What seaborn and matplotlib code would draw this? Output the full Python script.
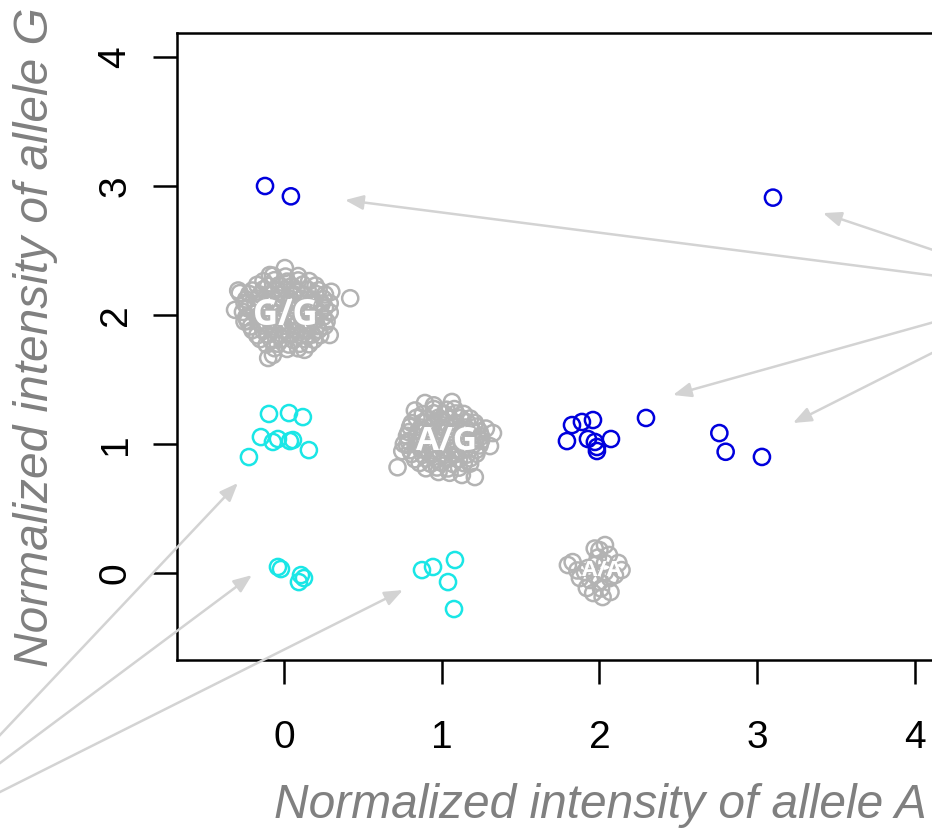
import numpy as np
import pandas as pd
import matplotlib
matplotlib.use("Agg")
import matplotlib.pyplot as plt
import seaborn as sns

# ---------------- data ----------------
# G/G cluster (gray)
gg_x = [-0.07, 0.01, 0.09,
        -0.13, -0.06, 0.02, 0.09, 0.16,
        -0.17, -0.10, -0.03, 0.05, 0.12, 0.20,
        -0.20, -0.13, -0.06, 0.01, 0.08, 0.15, 0.22,
        -0.22, -0.15, -0.08, -0.01, 0.06, 0.13, 0.20, 0.26,
        -0.24, -0.17, -0.10, -0.03, 0.04, 0.11, 0.18, 0.25,
        -0.25, -0.18, -0.11, -0.04, 0.03, 0.10, 0.17, 0.24, 0.29,
        -0.23, -0.16, -0.09, -0.02, 0.05, 0.12, 0.19, 0.26,
        -0.26, -0.19, -0.12, -0.05, 0.02, 0.09, 0.16, 0.23, 0.29,
        -0.24, -0.17, -0.10, -0.03, 0.04, 0.11, 0.18, 0.25,
        -0.23, -0.16, -0.09, -0.02, 0.05, 0.12, 0.19, 0.27,
        -0.21, -0.14, -0.07, 0.00, 0.07, 0.14, 0.21, 0.26,
        -0.20, -0.13, -0.06, 0.01, 0.08, 0.15, 0.22,
        -0.17, -0.10, -0.03, 0.04, 0.11, 0.18, 0.23,
        -0.15, -0.08, -0.01, 0.06, 0.13, 0.19,
        -0.11, -0.04, 0.03, 0.10, 0.16,
        -0.06, 0.02, 0.09,
        0.006, -0.09, -0.29, -0.28, 0.42, 0.30, 0.29, -0.10, -0.07, -0.31, -0.25, 0.13]
gg_y = [2.305, 2.298, 2.302,
        2.262, 2.270, 2.259, 2.268, 2.263,
        2.234, 2.226, 2.232, 2.225, 2.236, 2.228,
        2.190, 2.199, 2.193, 2.200, 2.191, 2.197, 2.192,
        2.163, 2.157, 2.164, 2.158, 2.162, 2.156, 2.165, 2.159,
        2.121, 2.128, 2.122, 2.129, 2.123, 2.127, 2.120, 2.126,
        2.093, 2.087, 2.094, 2.086, 2.092, 2.088, 2.095, 2.089, 2.091,
        2.052, 2.058, 2.051, 2.057, 2.053, 2.059, 2.054, 2.056,
        2.024, 2.017, 2.023, 2.016, 2.022, 2.018, 2.025, 2.019, 2.021,
        1.982, 1.988, 1.981, 1.987, 1.983, 1.989, 1.984, 1.986,
        1.953, 1.947, 1.954, 1.946, 1.952, 1.948, 1.955, 1.949,
        1.912, 1.918, 1.911, 1.917, 1.913, 1.919, 1.914, 1.916,
        1.883, 1.877, 1.884, 1.876, 1.882, 1.878, 1.885,
        1.842, 1.848, 1.841, 1.847, 1.843, 1.849, 1.844,
        1.813, 1.807, 1.814, 1.806, 1.812, 1.808,
        1.772, 1.778, 1.771, 1.777, 1.773,
        1.743, 1.737, 1.742,
        2.364, 2.310, 2.190, 2.170, 2.130, 2.180, 1.845, 1.667, 1.690, 2.040, 1.950, 1.730]

# A/G cluster (gray)
ag_x = [0.95, 1.03, 1.08,
        0.88, 0.95, 1.02, 1.09, 1.14,
        0.84, 0.91, 0.98, 1.05, 1.12, 1.18,
        0.81, 0.88, 0.95, 1.02, 1.09, 1.16, 1.21,
        0.80, 0.87, 0.94, 1.01, 1.08, 1.15, 1.22,
        0.79, 0.85, 0.92, 0.99, 1.06, 1.13, 1.20, 1.24,
        0.78, 0.84, 0.91, 0.98, 1.05, 1.12, 1.19, 1.25,
        0.79, 0.86, 0.93, 1.00, 1.07, 1.14, 1.21, 1.25,
        0.78, 0.85, 0.92, 0.99, 1.06, 1.13, 1.20, 1.24,
        0.80, 0.87, 0.94, 1.01, 1.08, 1.15, 1.22,
        0.81, 0.88, 0.95, 1.02, 1.09, 1.16, 1.22,
        0.83, 0.90, 0.97, 1.04, 1.11, 1.18,
        0.86, 0.93, 1.00, 1.07, 1.14, 1.18,
        0.90, 0.97, 1.04, 1.11,
        0.98, 1.05,
        0.72, 0.75, 0.894, 1.065, 1.325, 1.306, 1.21, 1.128, 0.83, 0.95, 1.28, 0.76]
ag_y = [1.272, 1.266, 1.271,
        1.232, 1.238, 1.231, 1.237, 1.233,
        1.203, 1.197, 1.204, 1.196, 1.202, 1.198,
        1.162, 1.168, 1.161, 1.167, 1.163, 1.169, 1.164,
        1.133, 1.127, 1.134, 1.126, 1.132, 1.128, 1.135,
        1.092, 1.098, 1.091, 1.097, 1.093, 1.099, 1.094, 1.096,
        1.063, 1.057, 1.064, 1.056, 1.062, 1.058, 1.065, 1.059,
        1.022, 1.028, 1.021, 1.027, 1.023, 1.029, 1.024, 1.026,
        0.993, 0.987, 0.994, 0.986, 0.992, 0.988, 0.995, 0.989,
        0.952, 0.958, 0.951, 0.957, 0.953, 0.959, 0.954,
        0.923, 0.917, 0.924, 0.916, 0.922, 0.918, 0.925,
        0.882, 0.888, 0.881, 0.887, 0.883, 0.889,
        0.853, 0.847, 0.854, 0.846, 0.852, 0.848,
        0.812, 0.818, 0.811, 0.817,
        0.783, 0.777,
        0.820, 0.945, 1.318, 1.326, 1.085, 0.984, 0.744, 0.760, 1.260, 1.300, 1.120, 1.000]

# A/A cluster (gray)
aa_x = [2.035, 2.00, 1.97, 1.83, 1.80, 2.14, 2.12, 1.96, 1.92, 2.02, 2.07,
        1.908, 1.971, 2.035, 1.94, 2.00, 2.066, 1.971, 2.035, 1.876, 2.098,
        1.927, 1.99, 2.06, 1.86, 2.01]
aa_y = [0.217, 0.178, 0.190, 0.085, 0.062, 0.023, 0.078, -0.155, -0.116, -0.186, -0.147,
        0.008, -0.016, 0.008, -0.054, -0.070, -0.039, 0.062, 0.078, -0.039, -0.016,
        0.039, 0.120, 0.140, 0.020, -0.120]

# blue points
blue_x = [-0.12, 0.044, 3.10,
          1.826, 1.889, 1.959, 1.794, 1.927, 1.971, 1.984, 1.984, 2.073, 2.295,
          2.76, 2.80, 3.03]
blue_y = [3.00, 2.92, 2.91,
          1.147, 1.171, 1.186, 1.023, 1.039, 1.016, 0.977, 0.946, 1.039, 1.202,
          1.085, 0.94, 0.90]

# cyan points
cyan_x = [-0.095, 0.032, 0.120, -0.146, -0.070, -0.038, 0.038, 0.057, 0.158, -0.222,
          -0.038, -0.019, 0.108, 0.095, 0.127,
          0.875, 0.945, 1.084, 1.040, 1.078]
cyan_y = [1.233, 1.240, 1.209, 1.054, 1.016, 1.039, 1.023, 1.031, 0.953, 0.899,
          0.047, 0.031, -0.016, -0.070, -0.039,
          0.023, 0.047, 0.101, -0.070, -0.279]

genotype_labels = ["G/G", "A/G", "A/A"]
genotype_label_x = [0.01, 1.03, 2.016]
genotype_label_y = [1.99, 1.023, 0.023]

xticks = [0, 1, 2, 3, 4]
yticks = [0, 1, 2, 3, 4]

# arrow targets (data coords) and origins (image pixels)
arrow_tip_x = [3.417, 0.387, 2.466, 3.227, -0.292, -0.203, 0.754]
arrow_tip_y = [2.79, 2.891, 1.380, 1.163, 0.698, -0.016, -0.132]
arrow_src_px = [(945, 254), (945, 277), (945, 319), (945, 346.5),
                (-10, 745.6), (-10, 770.5), (-10, 797)]

# ---------------- frame ----------------
df = pd.concat([
    pd.DataFrame({"x": gg_x, "y": gg_y, "group": "gray"}),
    pd.DataFrame({"x": ag_x, "y": ag_y, "group": "gray"}),
    pd.DataFrame({"x": aa_x, "y": aa_y, "group": "gray"}),
    pd.DataFrame({"x": blue_x, "y": blue_y, "group": "blue"}),
    pd.DataFrame({"x": cyan_x, "y": cyan_y, "group": "cyan"}),
], ignore_index=True)
palette = {"gray": "#B3B3B3", "blue": "#0000DD", "cyan": "#1AE6E6"}

sns.set_theme(style="white")
plt.rcParams['font.family'] = ['Liberation Sans', 'DejaVu Sans']

W, H = 932, 835
fig = plt.figure(figsize=(W / 100, H / 100), dpi=100)
xlim = (-0.678, 4.6)
ylim = (-0.674, 4.186)
ax_w_px = (xlim[1] - xlim[0]) * 157.75
ax = fig.add_axes([177 / W, (H - 660) / H, ax_w_px / W, (660 - 33) / H])
ax.set_facecolor("white")

sns.scatterplot(data=df, x="x", y="y", hue="group", palette=palette, s=135,
                legend=False, ax=ax, linewidth=1.8, zorder=3)
coll = ax.collections[-1]
fcs = coll.get_facecolors()
coll.set_edgecolors(fcs)
coll.set_facecolors("none")
coll.set_linewidths(1.8)

ax.set_xlim(*xlim)
ax.set_ylim(*ylim)

for lab, lx, ly, fs in zip(genotype_labels, genotype_label_x, genotype_label_y, [25, 24, 16]):
    ax.text(lx, ly, lab, color="white", fontsize=fs, fontweight="bold",
            family=["Open Sans", "DejaVu Sans"], ha="center", va="center", zorder=5)

for sp in ["left", "bottom", "top", "right"]:
    ax.spines[sp].set_visible(True)
    ax.spines[sp].set_color("black")
    ax.spines[sp].set_linewidth(1.8)

ax.set_xticks(xticks)
ax.set_yticks(yticks)
ax.set_xticklabels([str(t) for t in xticks])
ax.set_yticklabels([str(t) for t in yticks])
ax.tick_params(axis="both", direction="out", length=17.3, width=1.8, color="black",
               labelsize=28, labelcolor="black", bottom=True, left=True)
ax.tick_params(axis="x", pad=26)
ax.tick_params(axis="y", pad=14)
plt.setp(ax.get_yticklabels(), rotation=90, va="center")

ax.set_xlabel("Normalized intensity of allele A", fontsize=34.5, style="italic",
              color="#808080", va="center")
ax.xaxis.set_label_coords((600 - 177) / ax_w_px, (660 - 806) / 627)
ax.set_ylabel("Normalized intensity of allele G", fontsize=34.5, style="italic",
              color="#808080", va="center")
ax.yaxis.set_label_coords((36 - 177) / ax_w_px, (660 - 337) / 627)

for tx, ty, (sx, sy) in zip(arrow_tip_x, arrow_tip_y, arrow_src_px):
    ax.annotate("", xy=(tx, ty), xycoords="data",
                xytext=(sx, H - sy), textcoords="figure pixels",
                annotation_clip=False,
                arrowprops=dict(arrowstyle="-|>,head_length=0.55,head_width=0.22",
                                mutation_scale=20, color="#D3D3D3", lw=1.8,
                                shrinkA=0, shrinkB=0),
                zorder=6)

fig.savefig("out.png", dpi=100)
